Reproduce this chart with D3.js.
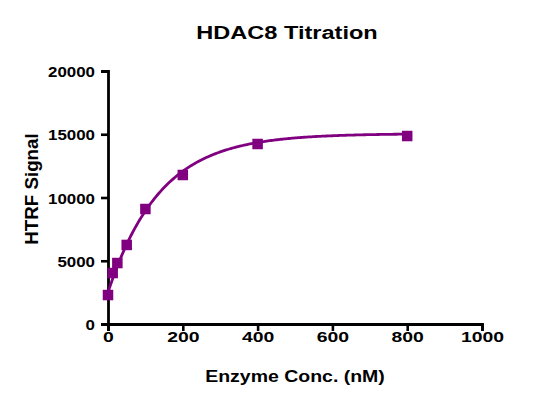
<!DOCTYPE html>
<html>
<head>
<meta charset="utf-8">
<script src="https://cdn.jsdelivr.net/npm/d3@7"></script>
<style>
  body { margin: 0; background: #fff; }
  text { font-family: "Liberation Sans", Arial, sans-serif; font-weight: bold; fill: #000; }
</style>
</head>
<body>
<svg id="canvas" width="539" height="403"></svg>
<script>
// enzyme concentration (nM) and HTRF signal
let conc = [0, 12.5, 25, 50, 100, 200, 400, 800];
let signal = [2290, 4030, 4820, 6250, 9090, 11780, 14230, 14860];

// one-phase association fit (plateau, start, rate)
let fitY0 = 2500;
let fitPlateau = 15050;
let fitK = 0.0072;

let xTicks = [0, 200, 400, 600, 800, 1000];
let yTicks = [0, 5000, 10000, 15000, 20000];

let purple = '#800080';

let svg = d3.select('#canvas');

let xScale = d3.scaleLinear().domain([0, 1000]).range([108, 482]);
let yScale = d3.scaleLinear().domain([0, 20000]).range([324, 71]);

// title
svg.append('text')
    .attr('transform', 'translate(287,39) scale(1.24,1)')
    .attr('text-anchor', 'middle')
    .style('font-size', '19px')
    .text('HDAC8 Titration');

// axes
let xAxis = svg.append('g')
    .attr('transform', 'translate(0,324)')
    .call(d3.axisBottom(xScale).tickValues(xTicks).tickFormat(d3.format('d'))
        .tickSizeOuter(0).tickSize(7).tickPadding(4));

let yAxis = svg.append('g')
    .attr('transform', 'translate(108,0)')
    .call(d3.axisLeft(yScale).tickValues(yTicks).tickFormat(d3.format('d'))
        .tickSizeOuter(0).tickSize(7).tickPadding(6));

[xAxis, yAxis].forEach((ax) => {
    ax.select('.domain').attr('stroke', '#000').attr('stroke-width', 2.8);
    ax.selectAll('.tick line').attr('stroke', '#000').attr('stroke-width', 2.6);
    ax.selectAll('.tick text').style('font-size', '15.5px').attr('fill', '#000');
});

xAxis.selectAll('.tick text')
    .attr('dy', null)
    .attr('y', 18)
    .attr('transform', 'scale(1.25,1)');

yAxis.selectAll('.tick text')
    .attr('dy', '0.36em')
    .attr('transform', 'scale(1.09,1)')
    .attr('x', -13 / 1.09);

// axis titles
svg.append('text')
    .attr('transform', 'translate(295,382) scale(1.16,1)')
    .attr('text-anchor', 'middle')
    .style('font-size', '16.8px')
    .text('Enzyme Conc. (nM)');

svg.append('text')
    .attr('transform', 'translate(38,189) rotate(-90) scale(1.06,1)')
    .attr('text-anchor', 'middle')
    .style('font-size', '17.7px')
    .text('HTRF Signal');

// fitted curve
let curveX = d3.range(0, 801, 4);
let line = d3.line()
    .x((d) => xScale(d))
    .y((d) => yScale(fitPlateau - (fitPlateau - fitY0) * Math.exp(-fitK * d)));

svg.append('path')
    .datum(curveX)
    .attr('d', line)
    .attr('fill', 'none')
    .attr('stroke', purple)
    .attr('stroke-width', 2.8);

// data points
let size = 10.5;
svg.selectAll('rect.pt')
    .data(conc)
    .enter()
    .append('rect')
    .attr('class', 'pt')
    .attr('x', (d) => xScale(d) - size / 2)
    .attr('y', (d, i) => yScale(signal[i]) - size / 2)
    .attr('width', size)
    .attr('height', size)
    .attr('fill', purple);
</script>
</body>
</html>
